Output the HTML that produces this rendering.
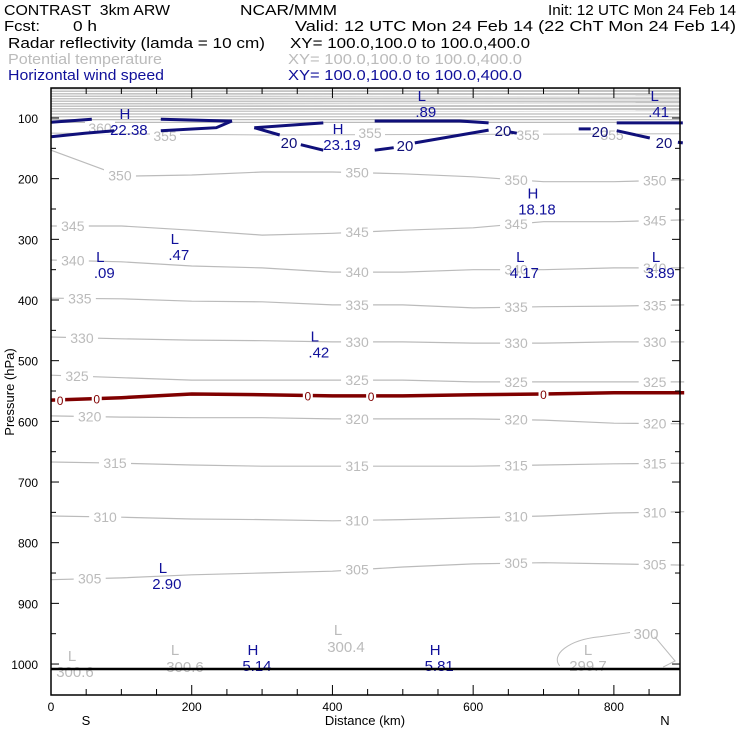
<!DOCTYPE html>
<html><head><meta charset="utf-8"><style>
body{margin:0;background:#fff;width:740px;height:740px;overflow:hidden}
svg{display:block}
text{font-family:"Liberation Sans",sans-serif;white-space:pre}
</style></head><body>
<svg id="chart" width="740" height="740" xmlns="http://www.w3.org/2000/svg" xml:space="preserve">
<g font-size="15">
<text x="4" y="15" fill="#000" textLength="166" lengthAdjust="spacingAndGlyphs">CONTRAST  3km ARW</text>
<text x="240" y="15" fill="#000" textLength="97" lengthAdjust="spacingAndGlyphs">NCAR/MMM</text>
<text x="548" y="15" fill="#000" textLength="188" lengthAdjust="spacingAndGlyphs">Init: 12 UTC Mon 24 Feb 14</text>
<text x="4" y="31" fill="#000" textLength="36" lengthAdjust="spacingAndGlyphs">Fcst:</text>
<text x="73" y="31" fill="#000" textLength="24" lengthAdjust="spacingAndGlyphs">0 h</text>
<text x="295" y="31" fill="#000" textLength="441" lengthAdjust="spacingAndGlyphs">Valid: 12 UTC Mon 24 Feb 14 (22 ChT Mon 24 Feb 14)</text>
<text x="8" y="48" fill="#000" textLength="257" lengthAdjust="spacingAndGlyphs">Radar reflectivity (lamda = 10 cm)</text>
<text x="290" y="48" fill="#000" textLength="240" lengthAdjust="spacingAndGlyphs">XY= 100.0,100.0 to 100.0,400.0</text>
<text x="8" y="64" fill="#bbb" textLength="154" lengthAdjust="spacingAndGlyphs">Potential temperature</text>
<text x="288" y="64" fill="#bbb" textLength="234" lengthAdjust="spacingAndGlyphs">XY= 100.0,100.0 to 100.0,400.0</text>
<text x="8" y="80" fill="#10109a" textLength="156" lengthAdjust="spacingAndGlyphs">Horizontal wind speed</text>
<text x="288" y="80" fill="#10109a" textLength="234" lengthAdjust="spacingAndGlyphs">XY= 100.0,100.0 to 100.0,400.0</text>
</g>
<g id="plot"></g>
</svg>
<script>
const kmPts=[0,100,200,300,400,500,600,700,800,900];
const thetaLevels=[350,345,340,335,330,325,320,315,310,305];
const th350=[153,196,194,189,189,192,197,205,205,202];
const th345=[278,278,285,293,290,285,281,271,271,268];
const th340=[334,337,344,347,354,354,350,350,347,347];
const th335=[397,398,402,403,408,408,413,411,410,408];
const th330=[461,464,466,467,469,469,471,471,469,469];
const th325=[524,528,532,532,532,532,535,535,535,535];
const th320=[591,593,594,594,596,596,596,598,603,604];
const th315=[667,669,672,674,674,674,674,672,670,669];
const th310=[756,758,761,762,764,762,759,756,751,749];
const th305=[861,858,853,850,847,840,835,833,835,837];
const thetaLines=[th350,th345,th340,th335,th330,th325,th320,th315,th310,th305];
const thetaLeftLabelKm=[98,31,31,41,44,37,55,91,77,55];
const refl0=[565,561,555,556,558,558,556,555,553,553];
const xTicks=[0,200,400,600,800];
const yTicks=[100,200,300,400,500,600,700,800,900,1000];
const extremaSym=["H","L","L","H","H","L","L","L","L","L","L","H","H"];
const extremaVal=["22.38",".89",".41","23.19","18.18",".47",".09","4.17","3.89",".42","2.90","5.14","5.81"];
const extremaKm=[105,527,858,408,685,176,70,667,860,375,159,287,546];
const extremaP=[102,72,72,126,233,308,337,337,337,468,850,985,985];

const X0=51,X1=680,KMAX=894,Y0=88,Y1=695;
const xs=k=>X0+k*0.7036;
const ys=p=>118+(p-100)*0.6067;
const NS="http://www.w3.org/2000/svg";
const plot=document.getElementById('plot');
function mk(tag,attrs){const e=document.createElementNS(NS,tag);for(const k in attrs)e.setAttribute(k,attrs[k]);plot.appendChild(e);return e;}
function txt(x,y,s,fill,anchor){const t=mk('text',{x:x,y:y,fill:fill,'font-size':14,'text-anchor':anchor||'middle'});t.textContent=s;return t;}
function interp(arr,k){const i=Math.min(8,Math.floor(k/100));const f=(k-kmPts[i])/100;return arr[i]+(arr[i+1]-arr[i])*f;}

// stratosphere dense isentropes
mk('rect',{x:X0,y:Y0,width:X1-X0,height:24,fill:'#c4c4c4'});
for(let i=0;i<10;i++){
 const l=mk('line',{x1:X0,x2:X1,y1:90+i*2.5,y2:90+i*2.5+(i%3-1)*0.7,stroke:'#fff','stroke-width':0.9});
 
 
}
for(let i=0;i<4;i++){
 const l=mk('line',{x1:X0,x2:X1,y1:114+i*2.8,y2:114+i*2.8,stroke:'#bbb','stroke-width':1.2});
 
 
}
const l355=mk('path',{d:`M${X0} ${ys(125)} L${xs(300)} ${ys(128)} L${X1} ${ys(126)}`,stroke:'#bbb',fill:'none'});


[[100,133,'360'],[165,141,'355'],[370,138,'355'],[528,140,'355'],[612,140,'355']].forEach(a=>{mk('rect',{x:a[0]-15,y:a[1]-12,width:30,height:13,fill:'#fff'});const t=txt(a[0],a[1],a[2],'#bbb');});

// isentropes
thetaLines.forEach((arr,i)=>{
 const d=arr.map((p,j)=>(j?'L':'M')+xs(kmPts[j]).toFixed(1)+' '+ys(p).toFixed(1)).join(' ');
 const pa=mk('path',{d:d,stroke:'#bbb',fill:'none','stroke-width':1.2});
 
 
 [thetaLeftLabelKm[i],435,661,858].forEach(k=>{
  const x=xs(k), y=ys(interp(arr,k))+5;
  mk('rect',{x:x-16,y:y-12,width:32,height:14,fill:'#fff'});
  const t=txt(x,y,String(thetaLevels[i]),'#bbb');
  
  
 });
});
// 300 closed contour
const c300=mk('path',{d:`M${xs(723)} ${ys(1003)} C${xs(710)} ${ys(985)},${xs(735)} ${ys(960)},${xs(780)} ${ys(955)} L${xs(823)} ${ys(948)} M${xs(858)} ${ys(955)} L${xs(887)} ${ys(995)} L${xs(870)} ${ys(1005)}`,stroke:'#bbb',fill:'none'});


[[646,639,'300'],[72,661,'L'],[75,677,'300.6'],[175,655,'L'],[185,672,'300.6'],[338,635,'L'],[346,652,'300.4'],[588,655,'L'],[588,671,'299.7']].forEach(a=>{const t=txt(a[0],a[1],a[2],'#bbb');t.setAttribute('font-size',15);});

// reflectivity 0 contour
const rd=refl0.map((p,j)=>(j?'L':'M')+xs(kmPts[j]).toFixed(1)+' '+ys(p).toFixed(1)).join(' ');
const rp=mk('path',{d:rd,stroke:'#800000',fill:'none','stroke-width':3.5});


[13,65,365,455,700].forEach(k=>{
 const y=ys(interp(refl0,k));
 mk('rect',{x:xs(k)-5,y:y-7,width:10,height:13,fill:'#fff'});
 const t=txt(xs(k),y+5,'0','#800000');t.setAttribute('font-size',12);
 
 
});

// wind 20 contours
const windSegs=[
 [[0,107],[58,102]],
 [[156,102],[252,105],[257,105],[235,116],[156,121]],
 [[0,131],[48,125],[90,121]],
 [[289,116],[387,108]],
 [[289,116],[325,128]],
 [[355,144],[387,153]],
 [[460,153],[487,149]],
 [[517,141],[622,120]],
 [[652,123],[662,125]],
 [[460,105],[581,105],[622,108]],
 [[750,118],[767,118]],
 [[804,108],[898,108]],
 [[804,121],[851,133]],
 [[891,140],[898,141]]];
windSegs.forEach(s=>{
 const d=s.map((q,j)=>(j?'L':'M')+xs(q[0]).toFixed(1)+' '+ys(q[1]).toFixed(1)).join(' ');
 const w=mk('path',{d:d,stroke:'#10107a',fill:'none','stroke-width':3});
 
 
});
[[289,148],[405,151],[503,136],[600,137],[664,148]].forEach(a=>{const t=txt(a[0],a[1],'20','#10107a');t.setAttribute('font-size',15);});

// extrema labels
extremaSym.forEach((s,i)=>{
 const x=xs(extremaKm[i]),y=ys(extremaP[i]);
 const a=txt(x,y,s,'#10109a');a.setAttribute('font-size',15);
 
 
 const b=txt(x+4,y+16,extremaVal[i],'#10109a');b.setAttribute('font-size',15);
 
 
});

// ground line
const g=mk('line',{x1:X0,x2:X1,y1:669,y2:669,stroke:'#000','stroke-width':2.5});


// frame
const fr=mk('rect',{x:X0,y:Y0,width:X1-X0,height:Y1-Y0,fill:'none',stroke:'#000','stroke-width':1.5});


for(let k=0;k<=KMAX;k+=50){
 const big=k%200===0;
 mk('line',{x1:xs(k),x2:xs(k),y1:Y1,y2:Y1-(big?10:6),stroke:'#000'});
 mk('line',{x1:xs(k),x2:xs(k),y1:Y0,y2:Y0+(big?10:6),stroke:'#000'});
}
xTicks.forEach(k=>{const t=txt(xs(k),711,String(k),'#000');t.setAttribute('font-size',12);});
yTicks.forEach(p=>{
 mk('line',{x1:X0,x2:X0+8,y1:ys(p),y2:ys(p),stroke:'#000'});
 mk('line',{x1:X1,x2:X1-8,y1:ys(p),y2:ys(p),stroke:'#000'});
 const t=txt(38,ys(p)+5,String(p),'#000','end');t.setAttribute('font-size',12);
 
 
});
for(let p=150;p<1050;p+=100){mk('line',{x1:X0,x2:X0+5,y1:ys(p),y2:ys(p),stroke:'#000'});mk('line',{x1:X1,x2:X1-5,y1:ys(p),y2:ys(p),stroke:'#000'});}
const xt=txt(365,725,'Distance (km)','#000');xt.setAttribute('font-size',13);


const sL=txt(86,725,'S','#000');sL.setAttribute('font-size',13);


const nL=txt(665,725,'N','#000');nL.setAttribute('font-size',13);


const yt=txt(0,0,'Pressure (hPa)','#000');yt.setAttribute('font-size',13);
yt.setAttribute('transform','translate(14,392) rotate(-90)');


</script>
</body></html>
